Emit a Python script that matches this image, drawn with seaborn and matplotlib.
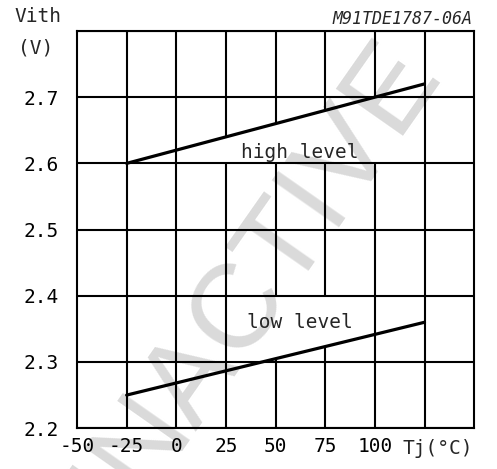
import numpy as np
import pandas as pd
import seaborn as sns
import matplotlib.pyplot as plt

# junction temperature (°C) and threshold voltage (V)
temp = [-25, 125]
vith_high = [2.60, 2.72]
vith_low = [2.25, 2.36]

x_ticks = [-50, -25, 0, 25, 50, 75, 100, 125, 150]
x_labels = ['-50', '-25', '0', '25', '50', '75', '100', '', '']
y_ticks = [2.2, 2.3, 2.4, 2.5, 2.6, 2.7, 2.8]
y_labels = ['2.2', '2.3', '2.4', '2.5', '2.6', '2.7', '']

df = pd.DataFrame({
    'temp': temp * 2,
    'vith': vith_high + vith_low,
    'level': ['high level'] * 2 + ['low level'] * 2,
})

sns.set_style('white')
plt.rcParams['font.family'] = ['DejaVu Sans Mono', 'DejaVu Sans']

fig = plt.figure(figsize=(4.97, 4.69), dpi=100)
ax = fig.add_axes([0.155, 0.087, 0.799, 0.847])

sns.lineplot(data=df, x='temp', y='vith', hue='level',
             palette=['black', 'black'], linewidth=2.3, legend=False,
             ax=ax, zorder=5)

ax.set_xlim(-50, 150)
ax.set_ylim(2.2, 2.8)
ax.set_xticks(x_ticks)
ax.set_xticklabels(x_labels)
ax.set_yticks(y_ticks)
ax.set_yticklabels(y_labels)
ax.grid(True, axis='y', color='black', linewidth=1.5, zorder=1)
ax.set_axisbelow(True)

# vertical grid, left open behind the two curve labels
for xv in x_ticks[1:-1]:
    hi = np.interp(xv, temp, vith_high)
    lo = np.interp(xv, temp, vith_low)
    segs = [(2.2, 2.8)]
    if 25 <= xv <= 100:
        segs = [(2.2, 2.6), (hi, 2.8)]
    if 25 < xv < 100:
        segs = [(2.2, lo), (2.4, 2.6), (hi, 2.8)]
    for y0, y1 in segs:
        ax.vlines(xv, y0, y1, color='black', linewidth=1.5, zorder=1)

for s in ax.spines.values():
    s.set_color('black')
    s.set_linewidth(1.5)
ax.tick_params(axis='both', length=2, width=1, color='black', labelsize=14,
               labelcolor='black')
ax.tick_params(axis='y', pad=11)
ax.tick_params(axis='x', pad=4)
ax.set_xlabel('')
ax.set_ylabel('')

ax.text(62, 2.617, 'high level', ha='center', va='center', fontsize=14, zorder=6)
ax.text(62, 2.359, 'low level', ha='center', va='center', fontsize=14, zorder=6)

# watermark, under the grid
ax.text(0.45, 0.38, 'INACTIVE', transform=ax.transAxes, rotation=55,
        fontsize=86, color='#dadada', family='Liberation Sans',
        ha='center', va='center', rotation_mode='anchor', zorder=0.2,
        clip_on=False)

fig.text(38 / 497, 1 - 16 / 469, 'Vith', ha='center', va='center', fontsize=14)
fig.text(36 / 497, 1 - 48 / 469, '(V)', ha='center', va='center', fontsize=14)
fig.text(438 / 497, 1 - 448 / 469, 'Tj(°C)', ha='center', va='center', fontsize=14)
fig.text(472 / 497, 1 - 19 / 469, 'M91TDE1787-06A', ha='right', va='center',
         fontsize=12, style='italic')

plt.savefig('out.png', dpi=100)
